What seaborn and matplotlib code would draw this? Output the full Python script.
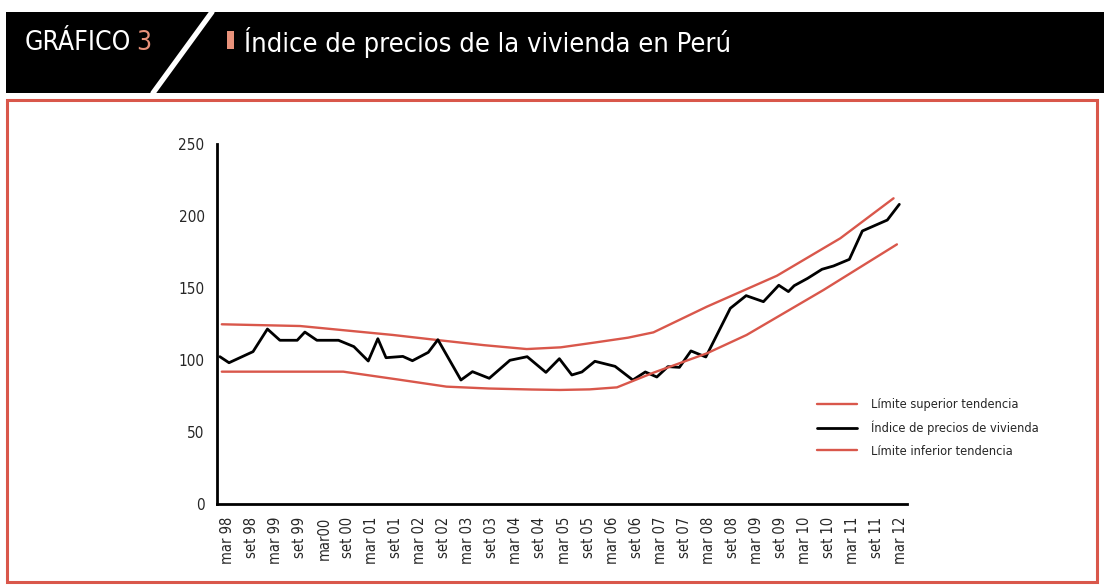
"""Índice de precios de la vivienda en Perú (Gráfico 3)."""

import matplotlib

matplotlib.use("Agg")
import matplotlib.pyplot as plt
import pandas as pd
import seaborn as sns
from matplotlib.lines import Line2D
from matplotlib.patches import Rectangle

# fechas en años decimales (mar = .17, set = .67)
fecha_indice = [
    1998.00, 1998.19, 1998.69, 1998.99, 1999.25, 1999.61, 1999.77, 2000.02,
    2000.47, 2000.79, 2001.09, 2001.29, 2001.46, 2001.81, 2002.01, 2002.34,
    2002.54, 2003.02, 2003.26, 2003.61, 2004.04, 2004.40, 2004.79, 2005.07,
    2005.33, 2005.54, 2005.81, 2006.23, 2006.60, 2006.86, 2007.10, 2007.33,
    2007.57, 2007.81, 2008.12, 2008.63, 2008.96, 2009.32, 2009.64, 2009.84,
    2009.96, 2010.24, 2010.54, 2010.78, 2011.11, 2011.38, 2011.90, 2012.15,
]
indice = [
    102.3, 98.1, 105.8, 121.5, 113.7, 113.7, 119.4, 113.7,
    113.7, 109.3, 99.3, 114.8, 101.6, 102.5, 99.5, 105.3,
    114.1, 86.1, 91.9, 87.3, 99.8, 102.3, 91.4, 100.9,
    89.6, 91.7, 99.1, 95.6, 86.1, 91.7, 88.2, 95.4,
    94.9, 106.3, 102.1, 135.9, 144.7, 140.5, 151.9, 147.5,
    151.6, 156.7, 163.0, 165.3, 169.9, 189.6, 197.2, 208.1,
]

fecha_superior = [
    1998.04, 1999.67, 2000.54, 2001.60, 2002.52, 2003.50, 2004.39, 2005.10,
    2005.78, 2006.50, 2007.03, 2008.14, 2009.60, 2010.92, 2012.03,
]
limite_superior = [
    124.8, 123.6, 120.8, 117.4, 113.9, 110.3, 107.6, 108.8,
    112.0, 115.5, 119.2, 137.0, 158.5, 184.5, 212.3,
]

fecha_inferior = [
    1998.04, 2000.57, 2001.70, 2002.72, 2003.60, 2004.50, 2005.08, 2005.70,
    2006.27, 2007.03, 2008.14, 2008.97, 2010.57, 2012.10,
]
limite_inferior = [
    91.9, 91.9, 86.5, 81.5, 80.2, 79.5, 79.2, 79.6,
    81.0, 91.2, 104.6, 117.4, 148.6, 180.3,
]

etiquetas_x = [
    "mar 98", "set 98", "mar 99", "set 99", "mar00", "set 00", "mar 01",
    "set 01", "mar 02", "set 02", "mar 03", "set 03", "mar 04", "set 04",
    "mar 05", "set 05", "mar 06", "set 06", "mar 07", "set 07", "mar 08",
    "set 08", "mar 09", "set 09", "mar 10", "set 10", "mar 11", "set 11",
    "mar 12",
]
posiciones_x = [1998 + 2 / 12 + i / 2 for i in range(len(etiquetas_x))]

ROJO = "#d9574b"
SALMON = "#e8917a"
W, H = 1104, 587


def fx(px):
    return px / W


def fy(py):
    return 1 - py / H


sns.set_style("white")
plt.rcParams["font.family"] = ["DejaVu Sans"]
plt.rcParams["font.stretch"] = "condensed"

df_sup = pd.DataFrame({"fecha": fecha_superior, "valor": limite_superior})
df_ind = pd.DataFrame({"fecha": fecha_indice, "valor": indice})
df_inf = pd.DataFrame({"fecha": fecha_inferior, "valor": limite_inferior})

fig = plt.figure(figsize=(W / 100, H / 100), dpi=100)

# cabecera negra con barra diagonal
fig.patches.append(Rectangle((fx(6), fy(93)), fx(1104) - fx(6), fy(12) - fy(93),
                             transform=fig.transFigure, facecolor="black",
                             edgecolor="none", zorder=0))
fig.lines.append(Line2D([fx(153), fx(212)], [fy(93), fy(12)],
                        transform=fig.transFigure, color="white", lw=3.8))
fig.patches.append(Rectangle((fx(227), fy(49)), fx(7), fy(31) - fy(49),
                             transform=fig.transFigure, facecolor=SALMON,
                             edgecolor="none"))
fig.text(fx(25), fy(43), "GRÁFICO", color="white", fontsize=19, va="center")
fig.text(fx(136), fy(43), "3", color=SALMON, fontsize=19, va="center")
fig.text(fx(244), fy(43), "Índice de precios de la vivienda en Perú",
         color="white", fontsize=19.5, va="center")

# marco rojo
fig.patches.append(Rectangle((fx(7), fy(582)), fx(1097) - fx(7), fy(100) - fy(582),
                             transform=fig.transFigure, facecolor="none",
                             edgecolor=ROJO, lw=2.2))

ax = fig.add_axes([fx(217), fy(504), fx(907) - fx(217), fy(144) - fy(504)])
sns.lineplot(data=df_sup, x="fecha", y="valor", ax=ax, color=ROJO, lw=1.7,
             sort=False, label="Límite superior tendencia")
sns.lineplot(data=df_ind, x="fecha", y="valor", ax=ax, color="black", lw=2.0,
             sort=False, label="Índice de precios de vivienda")
sns.lineplot(data=df_inf, x="fecha", y="valor", ax=ax, color=ROJO, lw=1.7,
             sort=False, label="Límite inferior tendencia")

ax.set_xlim(1997.94, 2012.31)
ax.set_ylim(0, 250)
ax.set_yticks([0, 50, 100, 150, 200, 250])
ax.set_xticks(posiciones_x)
ax.set_xticklabels(etiquetas_x, rotation=90, va="top", ha="center")
ax.set_xlabel("")
ax.set_ylabel("")
for s in ["top", "right"]:
    ax.spines[s].set_visible(False)
for s in ["left", "bottom"]:
    ax.spines[s].set_color("black")
    ax.spines[s].set_linewidth(2)
ax.tick_params(axis="y", length=5, width=2, color="black", pad=4, labelsize=11)
ax.tick_params(axis="x", length=0, pad=9, labelsize=10.5)
ax.set_facecolor("none")

ax.legend(loc="upper left", bbox_to_anchor=(fx(817), fy(398)),
          bbox_transform=fig.transFigure, frameon=False, fontsize=9.2,
          handlelength=3.1, handletextpad=1.1, labelspacing=0.75,
          borderpad=0, borderaxespad=0)

fig.savefig("out.png", dpi=100)
